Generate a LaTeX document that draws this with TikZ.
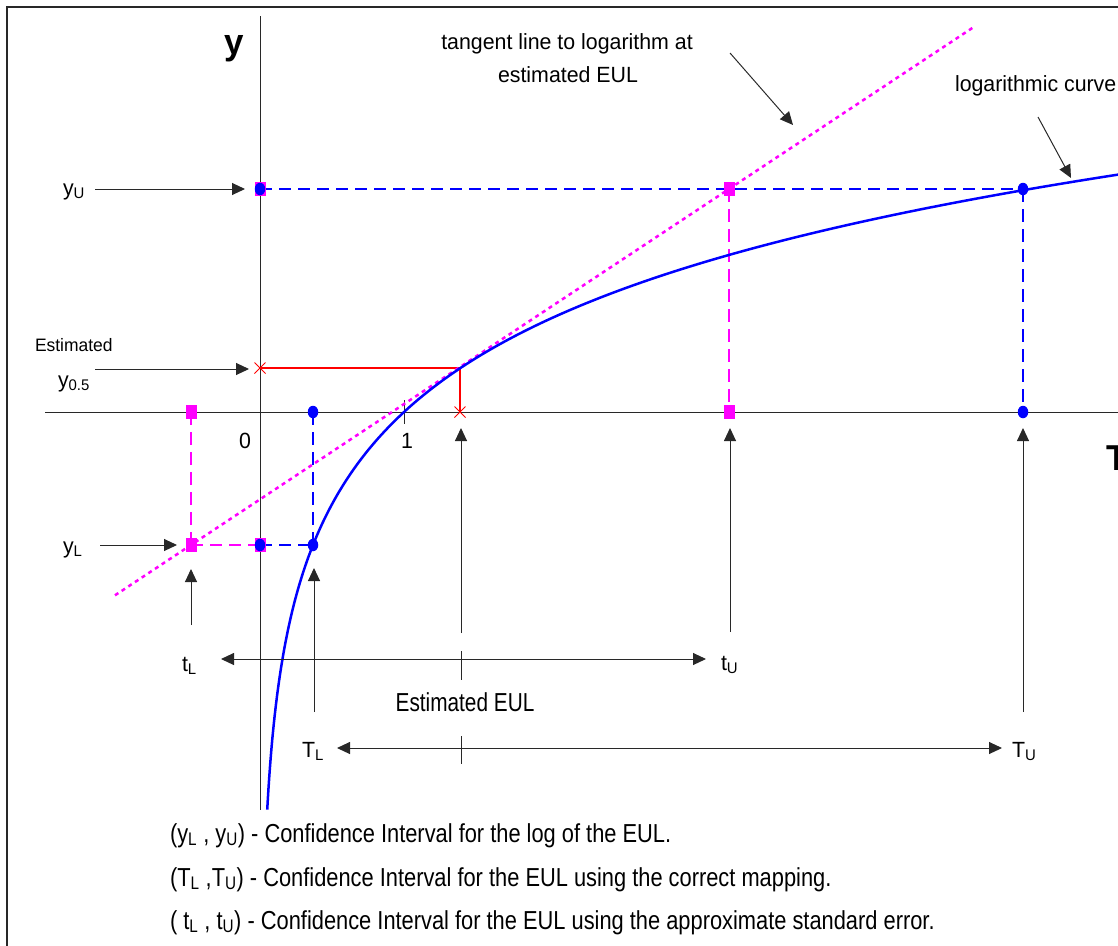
\documentclass[tikz,border=0pt]{standalone}
\usepackage{fontspec}
\setmainfont{Liberation Sans}[FakeStretch=0.97]
\newfontfamily\condfont{Liberation Sans}[FakeStretch=0.8]
\newfontfamily\legfont{Liberation Sans}[FakeStretch=0.84]
\usetikzlibrary{arrows.meta,shapes.geometric,shapes.misc}
\definecolor{pblue}{RGB}{0,0,255}
\definecolor{pmag}{RGB}{255,0,255}
\definecolor{pred}{RGB}{255,0,0}
\definecolor{agray}{RGB}{40,40,40}
\begin{document}
\begin{tikzpicture}[x=1pt,y=-1pt,
  every node/.style={inner sep=0pt,outer sep=0pt},
  lbl/.style={font=\fontsize{22}{26}\selectfont,anchor=base west},
  biglbl/.style={font=\fontsize{36}{40}\selectfont\bfseries,anchor=base west},
  condlbl/.style={font=\condfont\fontsize{26}{30}\selectfont,anchor=base west},
  leglbl/.style={font=\legfont\fontsize{26}{30}\selectfont,anchor=base west},
  framel/.style={line width=2pt,agray},
  axisline/.style={line width=1pt,agray},
  arrowline/.style={line width=1pt,agray,-{Triangle[length=13pt,width=12pt]}},
  dblarrow/.style={line width=1pt,agray,{Triangle[length=13pt,width=12pt]}-{Triangle[length=13pt,width=12pt]}},
  curveline/.style={line width=2.5pt,pblue},
  bdash/.style={line width=2.8pt,pblue,dash pattern=on 12pt off 7pt},
  bvdash/.style={line width=2.2pt,pblue,dash pattern=on 13pt off 7pt},
  mvdash/.style={line width=2pt,pmag,dash pattern=on 13pt off 7pt},
  mhdash/.style={line width=2.8pt,pmag,dash pattern=on 12pt off 7pt},
  mdot/.style={line width=2.5pt,pmag,dash pattern=on 4pt off 4pt},
  rline/.style={line width=2pt,pred},
  bdot/.style={ellipse,fill=pblue,minimum width=10.5pt,minimum height=12.5pt},
  msq/.style={rectangle,fill=pmag,minimum width=11pt,minimum height=14pt},
  rx/.style={cross out,draw=pred,line width=1pt,minimum width=11pt,minimum height=11pt}
]
\useasboundingbox (0,0) rectangle (1118,945);

% frame
\coordinate (f1) at (7,960);
\coordinate (f2) at (7,7);
\coordinate (f3) at (1130,7);
\draw[framel] (f1) -- (f2) -- (f3);

% key points
\coordinate (xa1) at (45,412);
\coordinate (xa2) at (1125,412);
\coordinate (ya1) at (260,16);
\coordinate (ya2) at (260,810);
\coordinate (YU0) at (260,189);
\coordinate (YUt) at (729,189);
\coordinate (YUT) at (1023,189);
\coordinate (XtU) at (729,412);
\coordinate (XTU) at (1023,412);
\coordinate (YM0) at (260,368);
\coordinate (YMe) at (460,368);
\coordinate (XEe) at (460,412);
\coordinate (YL0) at (260,545);
\coordinate (YLt) at (191,545);
\coordinate (YLT) at (313,545);
\coordinate (XtL) at (191,412);
\coordinate (XTL) at (313,412);
\coordinate (tg1) at (115,595.3);
\coordinate (tg2) at (975,26.2);
\coordinate (tk1) at (404,400);
\coordinate (tk2) at (404,424);

% axes
\draw[axisline] (xa1) -- (xa2);
\draw[axisline] (ya1) -- (ya2);
\draw[axisline] (tk1) -- (tk2);

% dashed guides
\draw[mvdash] (XtL) -- (YLt);
\draw[mhdash] (YLt) -- (YL0);
\draw[bdash] (YL0) -- (YLT);
\draw[bvdash] (XTL) -- (YLT);
\draw[bdash] (YU0) -- (YUT);
\draw[mvdash] (YUt) -- (XtU);
\draw[bvdash] (YUT) -- (XTU);

% red lines
\draw[rline] (YM0) -- (YMe) -- (XEe);

% tangent
\draw[mdot] (tg1) -- (tg2);

% logarithmic curve
\draw[curveline] plot[domain=-2.99:1.79,samples=220,smooth] ({260+144*exp(\x)},{412-133*\x});

% markers
\node[msq] (mYU0) at (YU0) {};
\node[bdot] (dYU0) at (YU0) {};
\node[msq] (mYUt) at (YUt) {};
\node[bdot] (dYUT) at (YUT) {};
\node[msq] (mXtU) at (XtU) {};
\node[bdot] (dXTU) at (XTU) {};
\node[msq] (mYL0) at (YL0) {};
\node[bdot] (dYL0) at (YL0) {};
\node[msq] (mYLt) at (YLt) {};
\node[bdot] (dYLT) at (YLT) {};
\node[msq] (mXtL) at (XtL) {};
\node[bdot] (dXTL) at (XTL) {};
\node[rx] (xYM0) at (YM0) {};
\node[rx] (xXEe) at (XEe) {};

% axis labels
\node[biglbl] (ylab) at (224,54) {y};
\node[biglbl] (Tlab) at (1106,470) {T};
\node[lbl,anchor=base] (zero) at (245,448) {0};
\node[lbl,anchor=base] (one) at (407,448) {1};

% left labels and arrows
\node[lbl] (lyU) at (63,195) {y\textsubscript{U}};
\coordinate (ayU1) at (95,189);
\coordinate (ayU2) at (245,189);
\draw[arrowline] (ayU1) -- (ayU2);

\node[lbl,font=\fontsize{18}{22}\selectfont] (lest) at (35,351) {Estimated};
\node[lbl] (ly05) at (58,387) {y\textsubscript{0.5}};
\coordinate (ay51) at (95,369);
\coordinate (ay52) at (249,369);
\draw[arrowline] (ay51) -- (ay52);

\node[lbl] (lyL) at (63,553) {y\textsubscript{L}};
\coordinate (ayL1) at (100,545);
\coordinate (ayL2) at (177,545);
\draw[arrowline] (ayL1) -- (ayL2);

% upward arrows
\coordinate (utL1) at (191,625);
\coordinate (utL2) at (191,569);
\draw[arrowline] (utL1) -- (utL2);
\coordinate (uTL1) at (314,712);
\coordinate (uTL2) at (314,568);
\draw[arrowline] (uTL1) -- (uTL2);
\coordinate (uE1) at (461,633);
\coordinate (uE2) at (461,428);
\draw[arrowline] (uE1) -- (uE2);
\coordinate (uE3) at (461,651);
\coordinate (uE4) at (461,680);
\coordinate (uE5) at (461,736);
\coordinate (uE6) at (461,764);
\draw[axisline] (uE3) -- (uE4);
\draw[axisline] (uE5) -- (uE6);
\coordinate (utU1) at (730,632);
\coordinate (utU2) at (730,428);
\draw[arrowline] (utU1) -- (utU2);
\coordinate (uTU1) at (1023,712);
\coordinate (uTU2) at (1023,428);
\draw[arrowline] (uTU1) -- (uTU2);

% interval arrows
\coordinate (it1) at (221,659);
\coordinate (it2) at (706,659);
\draw[dblarrow] (it1) -- (it2);
\coordinate (iT1) at (337,748);
\coordinate (iT2) at (1002,748);
\draw[dblarrow] (iT1) -- (iT2);

\node[lbl] (ltL) at (182,671) {t\textsubscript{L}};
\node[lbl] (ltU) at (721,670) {t\textsubscript{U}};
\node[lbl] (lTL) at (302,757) {T\textsubscript{L}};
\node[lbl] (lTU) at (1012,757) {T\textsubscript{U}};
\node[condlbl,anchor=base] (leul) at (465,711) {Estimated EUL};

% top annotations
\node[lbl,anchor=base] (tan1) at (567,49) {tangent line to logarithm at};
\node[lbl,anchor=base] (tan2) at (568,82) {estimated EUL};
\coordinate (at1) at (730,53);
\coordinate (at2) at (793,125);
\draw[arrowline] (at1) -- (at2);
\node[lbl] (lcurve) at (955,91) {logarithmic curve};
\coordinate (ac1) at (1038,117);
\coordinate (ac2) at (1071,178);
\draw[arrowline] (ac1) -- (ac2);

% legend
\node[leglbl] (leg1) at (170,842) {(y\textsubscript{L} , y\textsubscript{U}) - Confidence Interval for the log of the EUL.};
\node[leglbl] (leg2) at (170,886) {(T\textsubscript{L} ,T\textsubscript{U}) - Confidence Interval for the EUL using the correct mapping.};
\node[leglbl] (leg3) at (170,929) {( t\textsubscript{L} , t\textsubscript{U}) - Confidence Interval for the EUL using the approximate standard error.};
\end{tikzpicture}
\end{document}
